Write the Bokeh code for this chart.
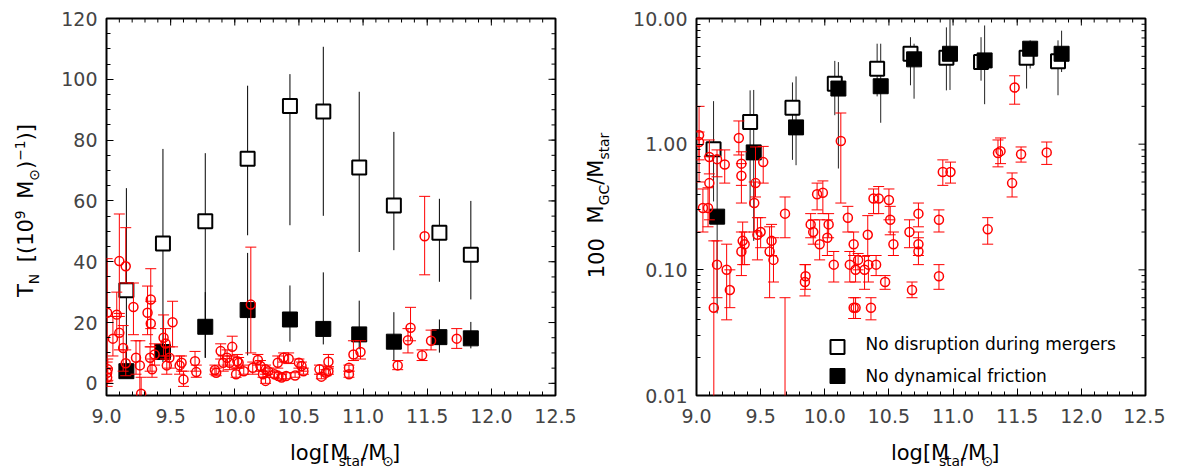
import numpy as np
from bokeh.plotting import figure
from bokeh.models import ColumnDataSource, FixedTicker, PrintfTickFormatter, Label
from bokeh.layouts import row, column
from bokeh.embed import file_html
from bokeh.resources import INLINE
from bokeh.transform import dodge

# ------------------------------------------------------------------ data
# model bins (log stellar mass)
model_logm = [9.155, 9.44, 9.77, 10.10, 10.43, 10.69, 10.97, 11.24, 11.595, 11.84]

# left panel: specific frequency T_N
tn_nodisrupt = [30.6, 46.0, 53.3, 73.9, 91.2, 89.4, 71.0, 58.5, 49.5, 42.3]
tn_nodisrupt_lo = [3.0, 8.0, 8.4, 48.7, 52.0, 55.1, 43.2, 43.8, 33.4, 27.6]
tn_nodisrupt_hi = [64.2, 77.1, 75.7, 97.9, 101.7, 110.7, 95.9, 82.7, 60.7, 60.0]
tn_nofric = [4.0, 10.3, 18.6, 24.1, 21.0, 17.9, 16.1, 13.7, 15.2, 14.8]
tn_nofric_lo = [2.0, 7.0, 8.4, 9.2, 13.7, 12.8, 11.2, 7.3, 10.1, 11.5]
tn_nofric_hi = [7.0, 14.0, 30.0, 42.9, 32.2, 36.5, 27.2, 23.4, 21.0, 20.2]

# right panel: 100 M_GC / M_star
fgc_nodisrupt = [0.91, 1.50, 1.95, 3.03, 3.98, 5.24, 4.87, 4.50, 4.87, 4.56]
fgc_nodisrupt_lo = [0.35, 0.32, 0.75, 1.7, 2.4, 2.94, 2.68, 3.2, 2.77, 2.45]
fgc_nodisrupt_hi = [2.2, 2.68, 3.1, 4.6, 6.3, 7.1, 8.5, 7.1, 6.5, 6.7]
fgc_nofric = [0.265, 0.86, 1.36, 2.77, 2.89, 4.73, 5.24, 4.64, 5.75, 5.24]
fgc_nofric_lo = [0.045, 0.17, 0.68, 0.64, 1.48, 2.3, 2.7, 2.08, 4.0, 3.75]
fgc_nofric_hi = [0.85, 2.7, 3.46, 4.5, 6.3, 6.3, 10.9, 8.8, 6.7, 8.0]

# observed galaxies, left panel (T_N)
obs_tn_x = [9.005, 9.005, 9.005, 9.01, 9.05, 9.08, 9.10, 9.10, 9.13, 9.15, 9.15, 9.21, 9.23,
            9.26, 9.27, 9.32, 9.345, 9.345, 9.34, 9.355, 9.375, 9.445, 9.46, 9.47, 9.49,
            9.515, 9.57, 9.585, 9.60, 9.69, 9.70, 9.845, 9.855, 9.89, 9.91, 9.94, 9.96,
            9.98, 10.01, 10.02, 10.03, 10.07, 10.125, 10.14, 10.18, 10.20, 10.22, 10.24,
            10.24, 10.26, 10.31, 10.335, 10.34, 10.365, 10.38, 10.40, 10.42, 10.47, 10.50,
            10.52, 10.535, 10.66, 10.675, 10.71, 10.73, 10.73, 10.89, 10.89, 10.925, 10.98,
            11.27, 11.35, 11.37, 11.46, 11.48, 11.53, 11.73]
obs_tn = [3.5, 1.9, 23.2, 4.6, 14.7, 22.6, 16.6, 40.2, 11.6, 38.5, 6.6, 25.1, 8.4, 5.9, -3.4,
          23.2, 27.6, 19.7, 8.4, 4.6, 9.5, 15.0, 13.1, 5.9, 8.4, 20.1, 5.9, 6.8, 1.3, 7.3,
          3.7, 4.4, 3.5, 10.6, 6.8, 8.4, 6.8, 12.0, 3.0, 7.3, 6.8, 4.0, 25.9, 5.1, 7.7, 5.7,
          3.0, 0.8, 4.6, 4.0, 3.0, 6.8, 2.4, 1.9, 8.4, 2.4, 8.1, 2.6, 6.8, 5.7, 4.0, 4.6,
          2.2, 3.5, 7.1, 4.0, 5.1, 3.0, 9.5, 10.3, 5.9, 14.2, 18.3, 9.2, 48.4, 14.0, 14.7]
obs_tn_lo = [0.5, -1, 5, 1, 9, 16, 11, 22, 4, 33, 2.5, 16, 3, -5, -10, 16, 18, 12, 4, 2, 6, 9,
             8, 3, 5, 12, 3, 4, -1, 4, 2, 3, 2.5, 8, 4, 6, 4.5, 9, 2, 5, 5, 3, 10, 3, 6, 4, 2,
             0, 3, 3, 2, 5, 1.5, 1, 7, 1.5, 6.5, 2, 5, 4, 3, 3, 1.5, 2.5, 5.5, 3, 4, 2, 7.5,
             8, 4.5, 10, 14, 7.5, 35.7, 11, 11.5]
obs_tn_hi = [7, 5, 41, 8, 22, 30, 23, 55.7, 19, 51.2, 11, 33, 14, 14, 2, 32, 37.7, 27, 12, 8,
             13, 22.5, 18, 9, 12, 27, 9, 9, 4, 10.5, 6, 6, 5, 13, 9, 11, 9, 15.5, 5, 9.5, 8.5,
             6, 44.8, 7, 9.5, 7.5, 4, 2, 6, 5, 4, 9, 3.5, 3, 10, 3.5, 10, 3.5, 8, 7, 5, 6, 3,
             4.5, 9.5, 5, 6, 4, 14, 14, 7.5, 18, 25, 11, 61.5, 17.5, 18]

# observed galaxies, right panel (100 M_GC / M_star)
obs_fgc_x = [9.02, 9.02, 9.05, 9.09, 9.10, 9.10, 9.16, 9.22, 9.135, 9.16, 9.235, 9.26, 9.33,
             9.35, 9.35, 9.36, 9.35, 9.375, 9.45, 9.46, 9.475, 9.50, 9.52, 9.57, 9.585, 9.60,
             9.69, 9.69, 9.845, 9.85, 9.89, 9.91, 9.94, 9.96, 9.985, 10.02, 10.03, 10.07,
             10.125, 10.18, 10.195, 10.225, 10.225, 10.24, 10.24, 10.26, 10.31, 10.335, 10.34,
             10.36, 10.38, 10.40, 10.42, 10.47, 10.50, 10.51, 10.535, 10.66, 10.68, 10.73,
             10.73, 10.73, 10.89, 10.89, 10.92, 10.98, 11.27, 11.35, 11.37, 11.46, 11.48,
             11.53, 11.73]
obs_fgc = [1.18, 1.04, 0.31, 0.31, 0.49, 0.79, 0.76, 0.69, 0.05, 0.11, 0.10, 0.069, 1.12,
           0.70, 0.56, 0.17, 0.14, 0.16, 0.34, 0.49, 0.19, 0.20, 0.72, 0.14, 0.17, 0.12, 0.28,
           0.005, 0.08, 0.089, 0.23, 0.20, 0.40, 0.16, 0.41, 0.18, 0.23, 0.11, 1.06, 0.26,
           0.11, 0.16, 0.05, 0.05, 0.10, 0.12, 0.10, 0.19, 0.11, 0.05, 0.37, 0.11, 0.37, 0.08,
           0.36, 0.25, 0.16, 0.20, 0.069, 0.28, 0.16, 0.14, 0.25, 0.089, 0.60, 0.60, 0.21,
           0.85, 0.88, 0.49, 2.82, 0.83, 0.86]
obs_fgc_lo = [0.75, 0.5, 0.2, 0.22, 0.25, 0.58, 0.55, 0.49, 0.003, 0.06, 0.04, 0.05, 0.82,
              0.47, 0.34, 0.11, 0.09, 0.11, 0.2, 0.38, 0.12, 0.15, 0.49, 0.06, 0.13, 0.08,
              0.18, 0.003, 0.062, 0.07, 0.18, 0.16, 0.3, 0.12, 0.28, 0.13, 0.18, 0.08, 0.34,
              0.2, 0.08, 0.13, 0.041, 0.041, 0.08, 0.1, 0.07, 0.13, 0.08, 0.04, 0.28, 0.09,
              0.28, 0.07, 0.25, 0.19, 0.13, 0.15, 0.06, 0.22, 0.13, 0.11, 0.2, 0.07, 0.47,
              0.49, 0.16, 0.66, 0.7, 0.38, 2.08, 0.72, 0.69]
obs_fgc_hi = [2.0, 1.25, 0.44, 0.45, 0.8, 1.08, 0.9, 0.9, 0.17, 0.17, 0.16, 0.1, 1.53, 0.87,
              0.7, 0.24, 0.2, 0.2, 0.5, 0.95, 0.26, 0.26, 0.96, 0.22, 0.23, 0.18, 0.38, 0.06,
              0.11, 0.11, 0.28, 0.25, 0.49, 0.25, 0.51, 0.25, 0.28, 0.14, 1.77, 0.32, 0.14,
              0.2, 0.06, 0.06, 0.13, 0.135, 0.128, 0.27, 0.13, 0.06, 0.44, 0.13, 0.46, 0.09,
              0.44, 0.32, 0.2, 0.25, 0.08, 0.34, 0.2, 0.18, 0.3, 0.11, 0.75, 0.72, 0.26, 1.08,
              1.12, 0.59, 3.5, 0.95, 1.04]

x_ticks = [9.0, 9.5, 10.0, 10.5, 11.0, 11.5, 12.0, 12.5]
tn_ticks = [0, 20, 40, 60, 80, 100, 120]
fgc_ticks = [0.01, 0.1, 1.0, 10.0]
legend_labels = ["No disruption during mergers", "No dynamical friction"]

# ------------------------------------------------------------------ layout / style
FONT = "DejaVu Sans"
RED = "#ff0000"
FW, FH = 449.0, 377.0          # frame size in px
TOP, BOTTOM = 18, 36           # borders of the plot figures
TOTAL_H = 470                  # full page height used
XLAB_H = TOTAL_H - (TOP + int(FH) + BOTTOM)
MID = 0.35                     # distance baseline -> "middle" anchor, in em

W = {' ': 651, '(': 799, ')': 799, '[': 799, ']': 799, '/': 690, '-': 739, '\u2212': 1716,
     'M': 1767, 'T': 1251, 'N': 1532, 'G': 1607, 'C': 1430, 'l': 569, 'o': 1253, 'g': 1300,
     's': 1067, 't': 803, 'a': 1255, 'r': 842, '\u2299': 1716}
for d in "0123456789":
    W[d] = 1303


def tw(s, size):
    return sum(W.get(c, 1250) for c in s) / 2048.0 * size


def text_fig(w, h):
    """A blank figure whose frame is the whole canvas; data units == pixels."""
    p = figure(width=w, height=h, x_range=(0, w), y_range=(0, h), output_backend="svg",
               toolbar_location=None, min_border=0)
    p.axis.visible = False
    p.grid.visible = False
    p.outline_line_color = None
    p.background_fill_color = "white"
    p.border_fill_color = "white"
    return p


def rich_label(p, pieces, cx, base, size, vertical=False):
    """pieces: (text, role) with role n / sub / sup / gap (gap: text = width in em).
    cx = centre along the text direction, base = baseline position across it."""
    info, total = [], 0.0
    for t, role in pieces:
        if role == "gap":
            info.append((None, 0, t * size, 0))
            total += t * size
            continue
        s = size if role == "n" else size * 0.66
        off = 0.0 if role == "n" else (-0.24 * size if role == "sub" else 0.42 * size)
        w = tw(t, s)
        info.append((t, s, w, off))
        total += w
    pos = cx - total / 2.0
    for t, s, w, off in info:
        if t is not None:
            if vertical:
                x, y, ang = base - off - MID * s, pos, np.pi / 2
            else:
                x, y, ang = pos, base + off + MID * s, 0.0
            p.add_layout(Label(x=x, y=y, text=t, angle=ang, text_font=FONT,
                               text_font_size=f"{s:.1f}px", text_color="black",
                               text_align="left", text_baseline="middle"))
        pos += w


def style_axes(p, xt, xminor, yt, yminor, yfmt, xr, yr):
    common = dict(major_tick_in=7, major_tick_out=0, minor_tick_in=4, minor_tick_out=0,
                  major_tick_line_color="black", minor_tick_line_color="black",
                  axis_line_color=None)
    xa = p.xaxis[0]
    xa.ticker = FixedTicker(ticks=xt, minor_ticks=xminor)
    xa.formatter = PrintfTickFormatter(format="%.1f")
    xa.major_label_text_font = FONT
    xa.major_label_text_font_size = "19px"
    xa.major_label_standoff = 13
    ya = p.yaxis[0]
    ya.ticker = FixedTicker(ticks=yt, minor_ticks=yminor)
    ya.formatter = PrintfTickFormatter(format=yfmt)
    ya.major_label_text_font = FONT
    ya.major_label_text_font_size = "19px"
    ya.major_label_standoff = 9
    for a in (xa, ya):
        for k, v in common.items():
            setattr(a, k, v)
    # mirrored inward ticks on the top and right frame edges (outer half clipped by frame)
    p.scatter(x=xt, y=[yr[1]] * len(xt), marker="dash", angle=np.pi / 2, size=14,
              line_color="black", line_width=1)
    p.scatter(x=xminor, y=[yr[1]] * len(xminor), marker="dash", angle=np.pi / 2, size=8,
              line_color="black", line_width=1)
    p.scatter(x=[xr[1]] * len(yt), y=yt, marker="dash", size=14, line_color="black", line_width=1)
    p.scatter(x=[xr[1]] * len(yminor), y=yminor, marker="dash", size=8,
              line_color="black", line_width=1)


def base_fig(width, left, right, **kw):
    p = figure(width=width, height=TOP + int(FH) + BOTTOM, x_range=(9.0, 12.5),
               output_backend="svg", toolbar_location=None, min_border_left=left,
               min_border_right=right, min_border_top=TOP, min_border_bottom=BOTTOM, **kw)
    p.grid.visible = False
    p.outline_line_color = "black"
    p.outline_line_width = 2
    p.outline_line_alpha = 1.0
    p.background_fill_color = "white"
    p.border_fill_color = "white"
    return p


x_minor = [round(v, 2) for v in np.arange(9.0, 12.51, 0.1)]
xlabel_pieces = [("log[M", "n"), ("star", "sub"), ("/M", "n"), ("\u2299", "sub"), ("]", "n")]
XLAB_BASE = TOTAL_H - 460      # baseline of the x titles (page y = 460)

# ------------------------------------------------------------------ left panel
YL1_W, P1_LEFT = 46, 60
p1 = base_fig(583 - YL1_W, P1_LEFT, 28, y_range=(-4, 120))
style_axes(p1, x_ticks, x_minor, tn_ticks, list(range(0, 121, 5)), "%d", (9.0, 12.5), (-4, 120))

m1 = ColumnDataSource(dict(x=model_logm, a=tn_nodisrupt, alo=tn_nodisrupt_lo, ahi=tn_nodisrupt_hi,
                           b=tn_nofric, blo=tn_nofric_lo, bhi=tn_nofric_hi))
p1.segment(x0="x", y0="alo", x1="x", y1="ahi", source=m1, line_color="black", line_width=1)
p1.segment(x0="x", y0="blo", x1="x", y1="bhi", source=m1, line_color="black", line_width=1)
p1.scatter(x="x", y="a", source=m1, marker="square", size=14, fill_color="white",
           line_color="black", line_width=2)
p1.scatter(x="x", y="b", source=m1, marker="square", size=15, fill_color="black",
           line_color="black", line_width=1)

o1 = ColumnDataSource(dict(x=obs_tn_x, y=obs_tn, lo=obs_tn_lo, hi=obs_tn_hi))
p1.segment(x0="x", y0="lo", x1="x", y1="hi", source=o1, line_color=RED, line_width=1)
p1.scatter(x="x", y="lo", source=o1, marker="dash", size=11, line_color=RED, line_width=1)
p1.scatter(x="x", y="hi", source=o1, marker="dash", size=11, line_color=RED, line_width=1)
p1.scatter(x="x", y="y", source=o1, marker="circle", size=9, fill_color=None,
           line_color=RED, line_width=1.5)

ylab1 = text_fig(YL1_W, TOTAL_H)
rich_label(ylab1, [("T", "n"), ("N", "sub"), (0.55, "gap"), ("[(10", "n"), ("9", "sup"),
                   (0.55, "gap"), ("M", "n"), ("\u2299", "sub"), (")", "n"),
                   ("\u22121", "sup"), (")]", "n")],
           TOTAL_H - 210, 33, 21, vertical=True)
xlab1 = text_fig(583 - YL1_W, XLAB_H)
rich_label(xlab1, xlabel_pieces, P1_LEFT + FW / 2, XLAB_BASE, 21)

# ------------------------------------------------------------------ right panel
YL2_W, P2_LEFT = 36, 77
p2 = base_fig(582 - YL2_W, P2_LEFT, 20, y_range=(0.01, 10.0), y_axis_type="log")
fgc_minor = [m * 10.0 ** e for e in (-2, -1, 0) for m in range(2, 10)]
style_axes(p2, x_ticks, x_minor, fgc_ticks, fgc_minor, "%.2f", (9.0, 12.5), (0.01, 10.0))

m2 = ColumnDataSource(dict(x=model_logm, a=fgc_nodisrupt, alo=fgc_nodisrupt_lo,
                           ahi=fgc_nodisrupt_hi, b=fgc_nofric, blo=fgc_nofric_lo, bhi=fgc_nofric_hi))
xa_ = dodge("x", -0.022, range=p2.x_range)
xb_ = dodge("x", 0.006, range=p2.x_range)
p2.segment(x0=xa_, y0="alo", x1=xa_, y1="ahi", source=m2, line_color="#222222", line_width=1)
p2.segment(x0=xb_, y0="blo", x1=xb_, y1="bhi", source=m2, line_color="#222222", line_width=1)
p2.scatter(x=xa_, y="a", source=m2, marker="square", size=14, fill_color="white",
           line_color="black", line_width=2)
p2.scatter(x=xb_, y="b", source=m2, marker="square", size=15, fill_color="black",
           line_color="black", line_width=1)

o2 = ColumnDataSource(dict(x=obs_fgc_x, y=obs_fgc, lo=obs_fgc_lo, hi=obs_fgc_hi))
p2.segment(x0="x", y0="lo", x1="x", y1="hi", source=o2, line_color=RED, line_width=1)
p2.scatter(x="x", y="lo", source=o2, marker="dash", size=11, line_color=RED, line_width=1)
p2.scatter(x="x", y="hi", source=o2, marker="dash", size=11, line_color=RED, line_width=1)
p2.scatter(x="x", y="y", source=o2, marker="circle", size=9, fill_color=None,
           line_color=RED, line_width=1.5)


# legend (keys placed at frame pixel offsets, converted to data space)
def px_to_data(sx, sy):
    return 9.0 + sx / FW * 3.5, 10 ** (-2.0 + sy / FH * 3.0)


k1 = px_to_data(141, 48.5)
k2 = px_to_data(141, 19.5)
p2.scatter(x=[k1[0]], y=[k1[1]], marker="square", size=14, fill_color="white",
           line_color="black", line_width=2)
p2.scatter(x=[k2[0]], y=[k2[1]], marker="square", size=15, fill_color="black",
           line_color="black", line_width=1)
for lab, sy in zip(legend_labels, (51.5, 20.0)):
    p2.add_layout(Label(x=169, y=sy, x_units="screen", y_units="screen", text=lab,
                        text_font=FONT, text_font_size="17px", text_color="black",
                        text_align="left", text_baseline="middle"))

ylab2 = text_fig(YL2_W, TOTAL_H)
rich_label(ylab2, [("100", "n"), (0.7, "gap"), ("M", "n"), ("GC", "sub"), ("/M", "n"),
                   ("star", "sub")],
           TOTAL_H - 205, 20, 21, vertical=True)
xlab2 = text_fig(582 - YL2_W, XLAB_H)
rich_label(xlab2, xlabel_pieces, P2_LEFT + FW / 2, XLAB_BASE, 21)

layout = row(ylab1, column(p1, xlab1), ylab2, column(p2, xlab2))
open("out.html", "w").write(file_html(layout, INLINE))
